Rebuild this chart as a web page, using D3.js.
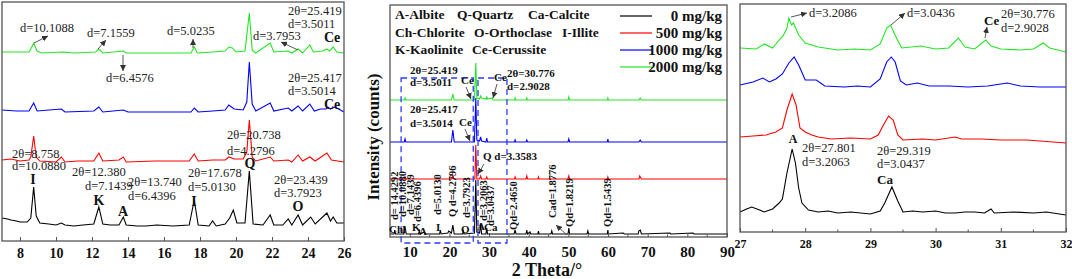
<!DOCTYPE html>
<html><head><meta charset="utf-8">
<script src="https://cdn.jsdelivr.net/npm/d3@7"></script>
<style>body{margin:0;background:#fff}svg{display:block}text{font-family:"Liberation Serif","Times New Roman",serif}</style>
</head><body><svg id="c" width="1072" height="279"></svg>
<script>
// ---------- DATA ----------
const seriesNames = ["0 mg/kg", "500 mg/kg", "1000 mg/kg", "2000 mg/kg"];
const seriesColors = ["#000000", "#ff0000", "#0000ff", "#22e622"];

// Left panel (2θ 7–26): [2θ, intensity above series baseline]
const leftTicks = [8, 10, 12, 14, 16, 18, 20, 22, 24, 26];
const leftOffsets = [15, 79, 129, 188];
const leftBlack = [[7.0,8],[7.3,7],[7.5,6],[7.8,5],[8.0,4],[8.4,4],[8.6,8],[8.76,39],[8.9,10],[9.1,3],[9.6,2],[10.0,1],[10.3,3],[10.5,1],[11.0,0],[11.5,1],[12.1,2],[12.38,19],[12.6,2],[13.0,1],[13.5,1],[13.74,9],[13.9,1],[14.5,0],[15.0,0],[15.6,1],[16.5,0],[17.4,1],[17.68,26],[17.9,1],[18.5,0],[18.7,5],[18.9,0],[19.4,2],[19.65,8],[19.85,16],[20.05,3],[20.5,3],[20.74,55],[20.95,2],[21.5,1],[21.9,11],[22.1,1],[22.6,1],[22.9,7],[23.1,1],[23.45,11],[23.7,1],[24.15,9],[24.4,2],[25.05,13],[25.25,5],[25.4,9],[25.6,3],[26,3]];
const leftRed = [[7.0,2],[7.5,3],[8.0,1],[8.5,2],[8.6,5],[8.76,26],[8.9,5],[9.1,1],[10.0,0],[10.3,5],[10.5,0],[11.2,1],[12.1,1],[12.38,9],[12.6,1],[13.5,2],[13.74,5],[13.9,0],[15.5,1],[17.4,1],[17.68,8],[17.9,1],[18.7,2],[19.4,2],[19.6,5],[19.9,3],[20.4,3],[20.6,10],[20.74,42],[20.9,5],[21.1,1],[21.9,5],[22.1,1],[22.9,2],[23.1,0],[23.45,7],[23.7,1],[24.1,5],[24.4,1],[25.05,9],[25.3,2],[26,0]];
const leftBlue = [[7.0,2],[7.8,1],[8.5,1],[8.76,9],[8.95,1],[10.3,3],[10.5,0],[12.1,1],[12.38,5],[12.6,0],[13.74,2],[14.0,0],[17.5,0],[17.68,4],[17.9,0],[18.7,1],[19.4,2],[19.6,7],[19.9,3],[20.4,2],[20.6,10],[20.74,50],[20.9,8],[21.1,1],[21.9,9],[22.1,1],[22.9,4],[23.1,1],[23.45,6],[23.7,1],[24.1,8],[24.35,1],[24.7,3],[25.0,3],[25.1,5],[25.25,3],[25.45,5],[25.7,3],[26,0]];
const leftGreen = [[7.0,1],[8.5,1],[8.6,4],[8.76,10],[8.95,2],[9.2,0],[10.4,1],[11.0,0],[12.2,1],[12.38,4],[12.6,0],[13.74,2],[13.9,0],[17.5,0],[17.68,6],[17.85,0],[18.7,1],[19.4,2],[19.6,6],[19.8,5],[20.0,1],[20.5,2],[20.74,40],[20.9,3],[21.1,0],[21.9,10],[22.1,1],[22.9,2],[23.1,0],[23.45,4],[23.7,0],[24.1,8],[24.3,1],[24.8,2],[25.05,4],[25.2,2],[25.4,6],[25.6,1],[26,0]];

// Middle panel (2θ 5–90)
const midTicks = [10, 20, 30, 40, 50, 60, 70, 80, 90];
const midOffsets = [3, 58, 95, 137];
const midBlack = [[5,0],[6.0,0],[6.2,4],[6.4,0],[8.5,0],[8.8,7],[9.1,0],[12.2,0],[12.4,3],[12.6,0],[13.7,2],[13.9,0],[17.5,0],[17.7,4],[17.9,0],[19.6,1],[19.8,3],[20.5,1],[20.85,9],[21.2,0],[23.3,0],[23.5,3],[23.7,0],[26.3,1],[26.64,54],[26.9,2],[27.6,1],[27.85,10],[28.1,0],[29.2,0],[29.4,6],[29.6,0],[36.3,0],[36.55,4],[36.8,0],[39.3,0],[39.5,4],[39.7,0],[40.3,2],[40.5,0],[42.3,0],[42.45,3],[42.6,0],[45.6,0],[45.8,3],[46.0,0],[49.9,0],[50.1,6],[50.3,0],[54.7,0],[54.9,3],[55.1,0],[59.8,0],[59.95,4],[60.1,0],[63.8,1],[64.1,0],[67.6,0],[67.75,3],[68.15,4],[68.4,0],[75.6,1],[75.9,0],[81.4,1],[81.7,0],[90,0]];
const midRed = [[5,0],[8.6,0],[8.8,2],[9.0,0],[20.6,0],[20.85,4],[21.1,0],[26.4,0],[26.64,34],[26.9,0],[27.6,0],[27.85,3],[28.1,0],[29.2,0],[29.4,2],[29.6,0],[36.4,0],[36.55,2],[36.7,0],[39.3,0],[39.5,3],[39.7,0],[42.3,0],[42.45,2],[42.6,0],[49.9,0],[50.1,3],[50.3,0],[59.8,0],[59.95,2],[60.1,0],[67.8,0],[68.0,3],[68.4,0],[90,0]];
const midBlue = [[5,0],[8.6,0],[8.8,3],[9.0,0],[20.5,0],[20.85,12],[21.2,0],[26.3,0],[26.64,44],[26.9,2],[27.6,1],[27.85,5],[28.1,1],[29.2,0],[29.4,4],[29.6,0],[36.4,0],[36.55,2],[36.7,0],[39.3,0],[39.5,2],[39.7,0],[49.9,0],[50.1,3],[50.3,0],[59.8,0],[59.95,3],[60.1,0],[67.8,0],[68.1,2],[68.4,0],[90,0]];
const midGreen = [[5,0],[8.6,0],[8.8,2],[9.0,0],[20.5,0],[20.85,6],[21.2,0],[26.3,0],[26.64,37],[26.9,2],[27.6,1],[27.85,4],[28.1,2],[29.2,1],[29.4,3],[29.6,1],[30.8,2],[31.0,0],[36.4,0],[36.55,2],[36.7,0],[39.3,0],[39.5,2],[39.7,0],[49.9,0],[50.1,3],[50.3,0],[59.8,0],[59.95,2],[60.1,0],[67.8,0],[68.1,2],[68.4,0],[90,0]];
const zoomBoxes = [[7.8, 26.0], [27.2, 34.5]];

// Right panel (2θ 27–32)
const rightTicks = [27, 28, 29, 30, 31, 32];
const rightOffsets = [19, 92, 145, 182];
const rightBlack = [[27.0,1],[27.1,4],[27.18,6],[27.3,3],[27.37,1],[27.5,4],[27.6,10],[27.65,14],[27.72,40],[27.8,64],[27.85,50],[27.9,25],[27.95,10],[28.05,3],[28.2,1],[28.35,2],[28.5,0],[28.7,1],[29.0,-1],[29.15,2],[29.22,10],[29.33,26],[29.42,12],[29.5,1],[29.65,2],[29.8,1],[30.0,2],[30.15,0],[30.3,0],[30.45,1],[30.6,1],[30.75,0],[30.85,4],[30.9,0],[31.2,1],[31.5,0],[31.7,1],[32,-2]];
const rightRed = [[27.0,3],[27.2,4],[27.4,5],[27.55,8],[27.65,12],[27.72,30],[27.8,46],[27.86,35],[27.92,12],[28.0,8],[28.1,5],[28.2,3],[28.4,1],[28.7,2],[29.0,1],[29.12,5],[29.2,15],[29.28,24],[29.35,20],[29.42,5],[29.5,0],[29.8,1],[30.0,0],[30.3,3],[30.4,1],[30.7,1],[31.0,0],[31.4,0],[32,-3]];
const rightBlue = [[27.0,2],[27.2,5],[27.35,9],[27.45,5],[27.55,8],[27.65,13],[27.75,24],[27.83,30],[27.9,22],[28.0,7],[28.17,7],[28.3,1],[28.6,0],[28.8,1],[29.0,0],[29.15,8],[29.25,25],[29.32,30],[29.38,25],[29.46,6],[29.55,2],[29.72,4],[29.9,1],[30.2,1],[30.5,0],[30.8,1],[31.1,4],[31.3,1],[31.6,0],[32,0]];
const rightGreen = [[27.0,2],[27.25,1],[27.37,6],[27.5,2],[27.6,10],[27.66,14],[27.72,22],[27.75,32],[27.79,25],[27.82,27],[27.9,15],[28.0,7],[28.2,3],[28.5,0],[28.75,1],[29.0,0],[29.15,6],[29.25,22],[29.31,25],[29.4,12],[29.48,2],[29.77,4],[30.0,1],[30.2,2],[30.35,12],[30.45,3],[30.6,1],[30.77,10],[30.85,4],[31.0,1],[31.3,0],[31.5,1],[31.65,7],[31.75,2],[32,-2]];

const mineralLegend = [["A-Albite", "Q-Quartz", "Ca-Calcite"], ["Ch-Chlorite", "O-Orthoclase", "I-Illite"], ["K-Kaolinite", "Ce-Cerussite"]];

// ---------- DRAW ----------
const svg = d3.select("#c");
const defs = svg.append("defs");
defs.append("marker").attr("id", "ah").attr("viewBox", "0 0 6 6").attr("refX", 6).attr("refY", 3)
  .attr("markerWidth", 6).attr("markerHeight", 6).attr("markerUnits", "userSpaceOnUse").attr("orient", "auto")
  .append("path").attr("d", "M0,0L6,3L0,6Z").attr("fill", "#333");

const FRAME = "#555";
function panel(cfg) {
  const g = svg.append("g");
  const x = d3.scaleLinear(cfg.xd, cfg.xr);
  const y = d3.scaleLinear(cfg.yd, cfg.yr);
  const line = d3.line().x(d => x(d[0])).y(d => y(d[1]));
  cfg.series.forEach((s, i) => {
    g.append("path").datum(s.map(p => [p[0], p[1] + cfg.offsets[i]]))
      .attr("d", line).attr("fill", "none").attr("stroke", seriesColors[i]).attr("stroke-width", 1.1);
  });
  const ax = d3.axisBottom(x).tickValues(cfg.ticks).tickSize(-4).tickPadding(cfg.pad).tickFormat(d3.format("d"));
  const a = g.append("g").attr("transform", `translate(0,${cfg.yr[0]})`).call(ax);
  a.select(".domain").remove();
  a.selectAll(".tick line").attr("stroke", FRAME);
  a.selectAll("text").attr("font-weight", "bold").attr("font-size", cfg.fs).attr("fill", "#111")
    .style("font-family", '"Liberation Serif",serif');
  if (cfg.minor) {
    g.selectAll(".mn").data(cfg.minor).join("line").attr("x1", d => x(d)).attr("x2", d => x(d))
      .attr("y1", cfg.yr[0]).attr("y2", cfg.yr[0] - 2.5).attr("stroke", FRAME);
  }
  g.append("rect").attr("x", cfg.xr[0]).attr("y", cfg.yr[1]).attr("width", cfg.xr[1] - cfg.xr[0])
    .attr("height", cfg.yr[0] - cfg.yr[1]).attr("fill", "none").attr("stroke", FRAME).attr("stroke-width", 1.3);
  return {g, x, y};
}

const L = panel({xd: [7, 26], xr: [2, 344], yd: [0, 239], yr: [241, 2], offsets: leftOffsets,
  series: [leftBlack, leftRed, leftBlue, leftGreen], ticks: leftTicks, pad: 7, fs: 14});
const M = panel({xd: [5, 90], xr: [390, 727], yd: [0, 232], yr: [237, 5], offsets: midOffsets,
  series: [midBlack, midRed, midBlue, midGreen], ticks: midTicks, pad: 9, fs: 15,
  minor: [15, 25, 35, 45, 55, 65, 75, 85]});
const R = panel({xd: [27, 32], xr: [740, 1066], yd: [0, 228], yr: [232, 4], offsets: rightOffsets,
  series: [rightBlack, rightRed, rightBlue, rightGreen], ticks: rightTicks, pad: 7, fs: 12,
  minor: [27.5, 28.5, 29.5, 30.5, 31.5]});

// zoom boxes
zoomBoxes.forEach(b => {
  svg.append("rect").attr("x", M.x(b[0])).attr("y", 78).attr("width", M.x(b[1]) - M.x(b[0])).attr("height", 165)
    .attr("fill", "none").attr("stroke", "#2b3bff").attr("stroke-width", 1.3).attr("stroke-dasharray", "6,4");
});

function txt(s, x, y, o = {}) {
  const t = svg.append("text").attr("x", x).attr("y", y).text(s)
    .attr("font-size", o.fs || 12.5).attr("fill", o.fill || "#222");
  if (o.bold) t.attr("font-weight", "bold");
  if (o.anchor) t.attr("text-anchor", o.anchor);
  if (o.rot) t.attr("transform", `rotate(-90,${x},${y})`);
  return t;
}
function arrow(x1, y1, x2, y2) {
  svg.append("line").attr("x1", x1).attr("y1", y1).attr("x2", x2).attr("y2", y2)
    .attr("stroke", "#444").attr("stroke-width", 0.9).attr("marker-end", "url(#ah)");
}

// Left annotations
[["d=10.1088",20,32],["d=7.1559",87,37],["d=5.0235",167,35],["d=6.4576",106,82],["d=3.7953",253,40],
 ["2θ=25.419",288,15],["d=3.5011",288,28],["2θ=25.417",288,82],["d=3.5014",288,95],
 ["2θ=8.758",12,158],["d=10.0880",12,170],["2θ=20.738",227,139],["d=4.2796",227,155],
 ["2θ=12.380",72,176],["d=7.1439",85,190],["2θ=13.740",128,186],["d=6.4396",128,200],
 ["2θ=17.678",188,177],["d=5.0130",188,191],["2θ=23.439",274,184],["d=3.7923",274,197]].forEach(a => txt(a[0], a[1], a[2]));
[["Ce",324,42],["Ce",324,109]].forEach(a => txt(a[0], a[1], a[2], {bold: true, fs: 14, fill: "#111"}));
[["I",33,184],["K",99,205],["A",123,216],["I",194,206],["Q",250,168],["O",298,211]].forEach(a =>
  txt(a[0], a[1], a[2], {bold: true, fs: 14, anchor: "middle", fill: "#111"}));
arrow(34, 43, 48, 36); arrow(98, 49, 106, 40); arrow(193, 48, 193, 39); arrow(123, 55, 123, 71); arrow(298, 50, 281, 42);

// Middle: mineral legend
const mlx = [[395, 457, 528], [395, 474, 562], [395, 472]];
const mly = [19, 37, 54];
mineralLegend.forEach((row, r) => row.forEach((s, c) => txt(s, mlx[r][c], mly[r], {bold: true, fs: 13.5, fill: "#111"})));
// series legend
[0, 1, 2, 3].forEach(i => {
  const yy = 16 + i * 17;
  svg.append("line").attr("x1", 620).attr("x2", 652).attr("y1", yy).attr("y2", yy).attr("stroke", seriesColors[i]).attr("stroke-width", 1.2);
  txt(seriesNames[i], 722, yy + 5, {bold: true, fs: 15, anchor: "end", fill: "#111"});
});
// axis titles
txt("2 Theta/°", 547, 276, {bold: true, fs: 18, anchor: "middle", fill: "#111"});
txt("Intensity (counts)", 379, 137, {bold: true, fs: 17, anchor: "middle", fill: "#111", rot: true});
// middle annotations
[["2θ=25.419",410,74],["d=3.5011",410,86],["2θ=30.776",507,77],["d=2.9028",507,90],
 ["2θ=25.417",410,113],["d=3.5014",410,127],["Ce",461,84],["Ce",494,81],["Ce",459,126],["Q d=3.3583",483,160]]
  .forEach(a => txt(a[0], a[1], a[2], {bold: true, fs: 11, fill: "#111"}));
arrow(466, 87, 471, 99); arrow(497, 84, 493, 98); arrow(465, 129, 470, 141); arrow(484, 164, 478, 174); arrow(567, 235, 556, 225);
[["d= 14.4292",398,220],["d=10.0880",406,217],["d=7.1439",414,215],["d=6.4396",421,222],["d=5.0130",441,215],
 ["Q d=4.2796",456,217],["d=3.7923",470,218],["d=3.2063",487,221],["d=3.0437",494,226],
 ["Qd=2.4650",517,230],["Cad=1.8776",556,218],["Qd=1.8219",573,227],["Qd=1.5439",611,227]]
  .forEach(a => txt(a[0], a[1], a[2], {bold: true, fs: 10.5, fill: "#111", rot: true}));
[["Ch",389,233],["I",402,233],["K",412,231],["A",419,235],["I",436,231],["O",461,233],["A",477,230],["Ca",484,231]]
  .forEach(a => txt(a[0], a[1], a[2], {bold: true, fs: 11, fill: "#111"}));

// Right annotations
[["d=3.2086",809,17],["d=3.0436",907,17],["2θ=30.776",1001,18],["d=2.9028",1001,32],
 ["2θ=27.801",802,152],["d=3.2063",802,166],["2θ=29.319",877,155],["d=3.0437",877,168]].forEach(a => txt(a[0], a[1], a[2], {fs: 12.5}));
txt("Ce", 984, 25, {bold: true, fs: 13, fill: "#111"});
txt("A", 793, 143, {bold: true, fs: 12, anchor: "middle", fill: "#111"});
txt("Ca", 885, 184, {bold: true, fs: 13, anchor: "middle", fill: "#111"});
arrow(791, 17, 807, 13); arrow(891, 25, 905, 13); arrow(985, 38, 987, 27);
</script></body></html>
